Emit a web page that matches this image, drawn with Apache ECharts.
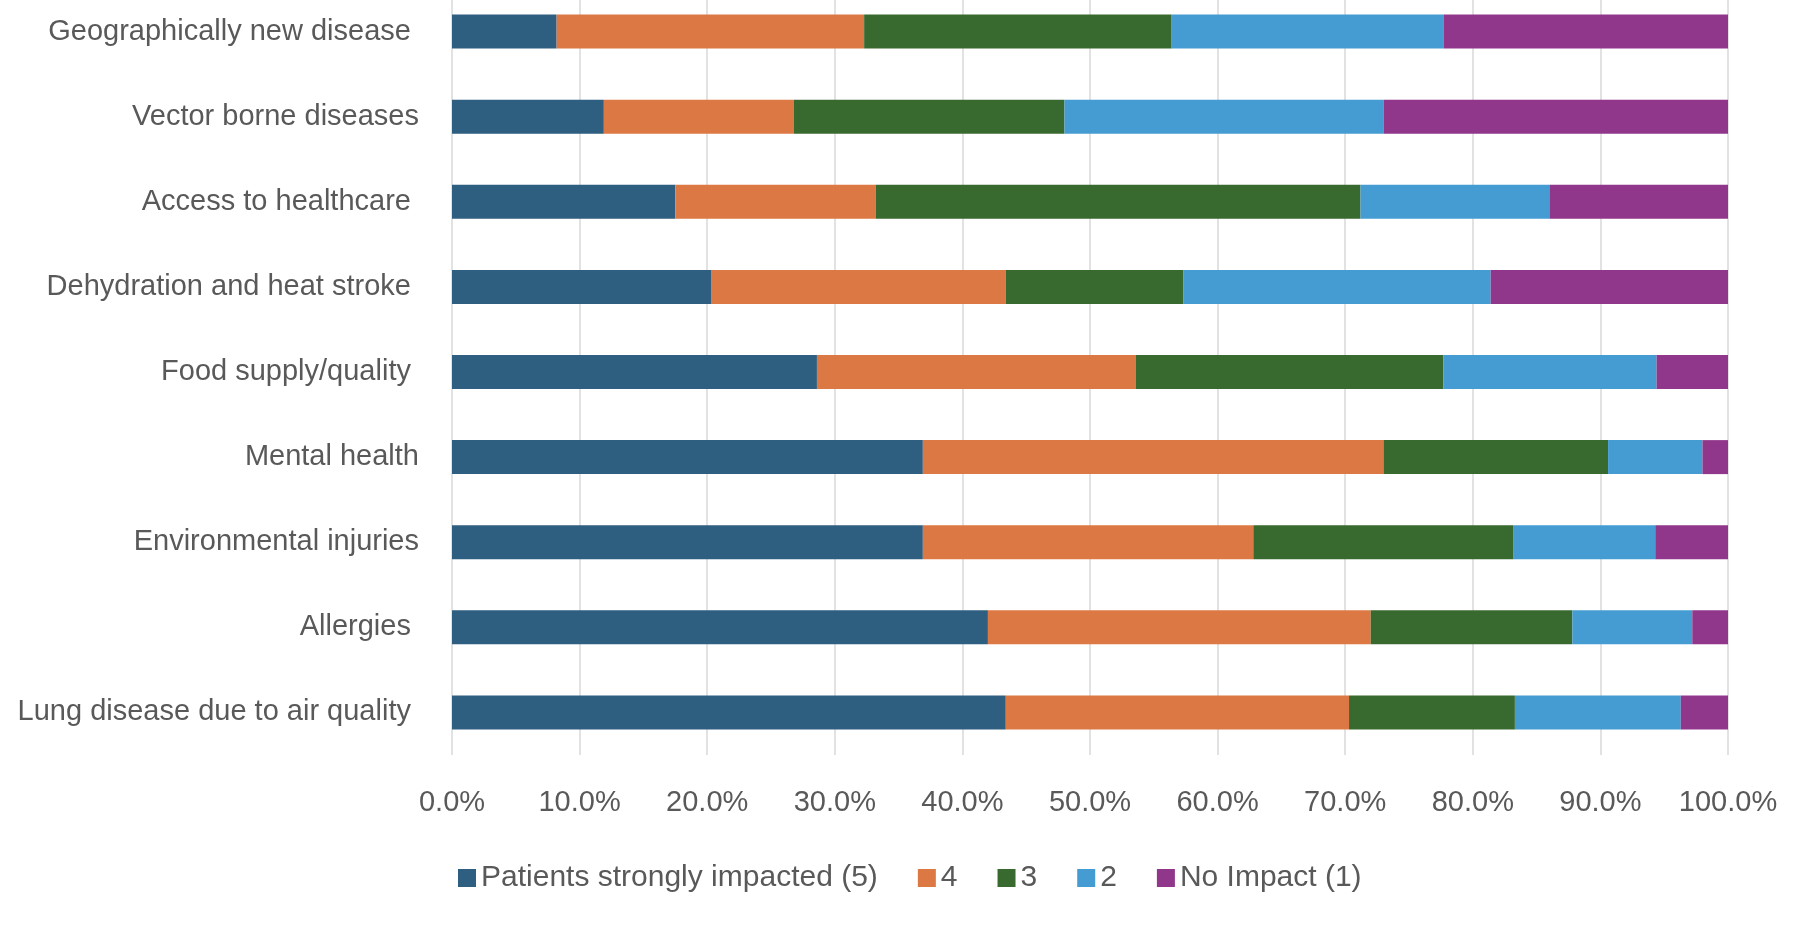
<!DOCTYPE html>
<html>
<head>
<meta charset="utf-8">
<script src="https://cdn.jsdelivr.net/npm/echarts@6/dist/echarts.min.js"></script>
<style>
  html, body { margin: 0; padding: 0; background: #fff; }
  #chart { width: 1800px; height: 929px; }
</style>
</head>
<body>
<div id="chart"></div>
<script>
// categories, top to bottom (trailing spaces as in the source labels)
const categories = [
  'Geographically new disease ',
  'Vector borne diseases',
  'Access to healthcare ',
  'Dehydration and heat stroke ',
  'Food supply/quality ',
  'Mental health',
  'Environmental injuries',
  'Allergies ',
  'Lung disease due to air quality '
];

const seriesNames = ['Patients strongly impacted (5)', '4', '3', '2', 'No Impact (1)'];
const colors = ['#2E5E80', '#DC7843', '#386A2F', '#459CD2', '#91378B'];

// share of patients (%) per rating, same order as categories
const impact5 = [8.2, 11.9, 17.5, 20.3, 28.6, 36.9, 36.9, 42.0, 43.4];
const impact4 = [24.1, 14.9, 15.7, 23.1, 25.0, 36.1, 25.9, 30.0, 26.9];
const impact3 = [24.1, 21.2, 38.0, 13.9, 24.1, 17.6, 20.4, 15.8, 13.0];
const impact2 = [21.3, 25.0, 14.8, 24.1, 16.7, 7.4, 11.1, 9.4, 13.0];
const impact1 = [22.3, 27.0, 14.0, 18.6, 5.6, 2.0, 5.7, 2.8, 3.7];

const allData = [impact5, impact4, impact3, impact2, impact1];

const chart = echarts.init(document.getElementById('chart'));

const font = 'Liberation Sans, Arial, sans-serif';

chart.setOption({
  animation: false,
  textStyle: { fontFamily: font },
  grid: {
    left: 452,
    right: 72,
    top: -11,
    bottom: 174,
    containLabel: false,
    outerBoundsMode: 'none'
  },
  legend: {
    bottom: 31,
    left: 453,
    itemWidth: 18,
    itemHeight: 18,
    itemGap: 40,
    icon: 'rect',
    textStyle: { color: '#595959', fontSize: 30, fontFamily: font },
    data: seriesNames
  },
  xAxis: {
    type: 'value',
    min: 0,
    max: 100,
    interval: 10,
    axisLine: { show: false },
    axisTick: { show: false },
    splitLine: { lineStyle: { color: '#D9D9D9', width: 1.5 } },
    axisLabel: {
      color: '#595959',
      fontSize: 29,
      margin: 33,
      formatter: function (v) { return v.toFixed(1) + '%'; }
    }
  },
  yAxis: {
    type: 'category',
    inverse: true,
    data: categories,
    axisLine: { show: false },
    axisTick: { show: false },
    axisLabel: { color: '#595959', fontSize: 29, margin: 33 }
  },
  series: allData.map(function (d, i) {
    return {
      name: seriesNames[i],
      type: 'bar',
      stack: 'total',
      barWidth: 34,
      itemStyle: { color: colors[i] },
      data: d
    };
  })
});
</script>
</body>
</html>
